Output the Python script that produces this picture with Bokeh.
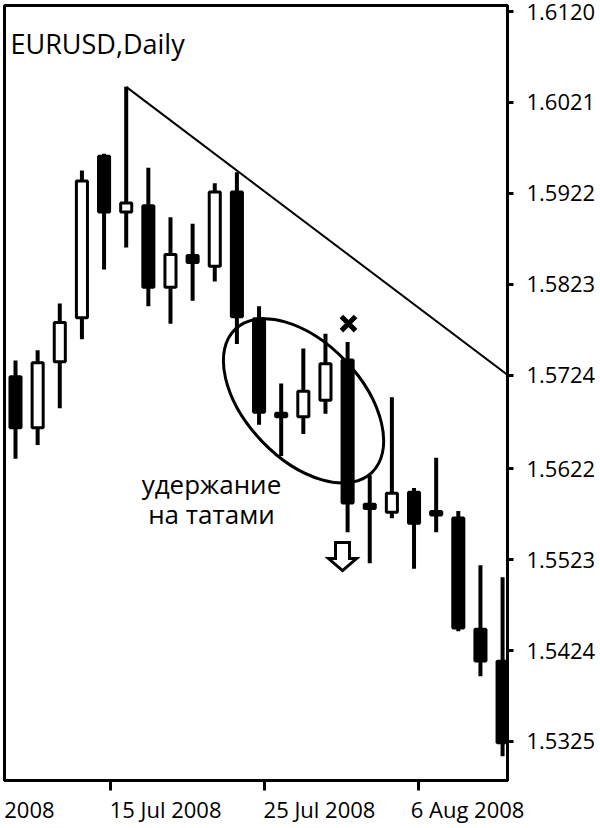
import numpy as np
from bokeh.plotting import figure
from bokeh.models import LinearAxis, FixedTicker, PrintfTickFormatter, ColumnDataSource
from bokeh.core.properties import value
from bokeh.embed import file_html
from bokeh.resources import INLINE

# ---------------- data ----------------
title_text = "EURUSD,Daily"
day_index = list(range(23))
open_ = [1.5724, 1.5665, 1.5737, 1.5785, 1.5964, 1.5900, 1.5910, 1.5818, 1.5856, 1.5841,
         1.5925, 1.5787, 1.5684, 1.5677, 1.5695, 1.5742, 1.5585, 1.5573, 1.5598, 1.5577,
         1.5570, 1.5449, 1.5414]
high = [1.5740, 1.5751, 1.5802, 1.5947, 1.5965, 1.6038, 1.5950, 1.5896, 1.5889, 1.5933,
        1.5945, 1.5799, 1.5715, 1.5753, 1.5769, 1.5760, 1.5615, 1.5700, 1.5601, 1.5634,
        1.5576, 1.5517, 1.5504]
low = [1.5633, 1.5648, 1.5688, 1.5763, 1.5839, 1.5863, 1.5799, 1.5780, 1.5805, 1.5826,
       1.5758, 1.5670, 1.5636, 1.5660, 1.5682, 1.5553, 1.5519, 1.5568, 1.5513, 1.5553,
       1.5445, 1.5396, 1.5309]
close = [1.5665, 1.5739, 1.5783, 1.5937, 1.5900, 1.5913, 1.5818, 1.5857, 1.5845, 1.5925,
         1.5786, 1.5682, 1.5677, 1.5708, 1.5738, 1.5583, 1.5577, 1.5597, 1.5561, 1.5570,
         1.5447, 1.5411, 1.5322]

price_ticks = [1.5325, 1.5424, 1.5523, 1.5622, 1.5724, 1.5823, 1.5922, 1.6021, 1.6120]
date_tick_pos = [4.29, 11.25, 18.20]
date_label_pos = [0.63, 6.78, 13.73, 20.42]
date_labels = ["2008", "15 Jul 2008", "25 Jul 2008", "6 Aug 2008"]

trend_x = [5, 23]
trend_y = [1.6038, 1.5710]

note_lines = ["удержание", "на татами"]
note_x = [8.85, 8.85]
note_y = [1.56049, 1.55733]

title_y = 1.60852

ellipse_x = [13.01]
ellipse_y = [1.5696]
cross_x = [15.04]
cross_y = [1.57802]
arrow_x = 14.77
arrow_tip_y = 1.55112

# ---------------- figure ----------------
X0, X1 = -0.497, 22.222
Y0, Y1 = 1.52825, 1.61266
FW, FH = 503, 775
px_x = (X1 - X0) / FW
px_y = (Y1 - Y0) / FH

FONT = "Open Sans"

p = figure(x_range=(X0, X1), y_range=(Y0, Y1), frame_width=FW, frame_height=FH,
           x_axis_type=None, y_axis_location="right", toolbar_location=None,
           output_backend="svg", min_border_left=4, min_border_top=5,
           min_border_right=0, min_border_bottom=0,
           outline_line_color="black", outline_line_width=3,
           background_fill_color="white", border_fill_color="white")
p.grid.visible = False

ya = p.yaxis[0]
ya.ticker = FixedTicker(ticks=price_ticks)
ya.formatter = PrintfTickFormatter(format="%.4f")
ya.major_label_text_font = FONT
ya.major_label_text_font_size = "22px"
ya.major_label_text_color = "black"
ya.major_tick_out = 6
ya.major_tick_in = 0
ya.major_tick_line_width = 3
ya.major_tick_line_color = "black"
ya.minor_tick_line_color = None
ya.axis_line_width = 3
ya.axis_line_color = "black"
ya.major_label_standoff = 13

# bottom axis: labels at major ticks (tick marks hidden), visible marks are the minor ticks
xa = LinearAxis(ticker=FixedTicker(ticks=date_label_pos, minor_ticks=date_tick_pos),
                major_label_overrides={k: v for k, v in zip(date_label_pos, date_labels)},
                major_label_text_font=FONT, major_label_text_font_size="22px",
                major_label_text_color="black",
                major_tick_line_color=None, major_tick_out=10, major_tick_in=0,
                minor_tick_line_color="black", minor_tick_line_width=3,
                minor_tick_out=10, minor_tick_in=0,
                axis_line_width=3, axis_line_color="black", major_label_standoff=3)
p.add_layout(xa, "below")

# ---------------- candles ----------------
o = np.array(open_)
c = np.array(close)
inset = 1.5 * px_y
src = ColumnDataSource(dict(
    x=day_index, high=high, low=low,
    top=np.maximum(o, c) - inset,
    bottom=np.minimum(o, c) + inset,
    fill=np.where(c >= o, "white", "black"),
))
p.segment(x0="x", y0="low", x1="x", y1="high", source=src, line_color="black", line_width=4)
p.vbar(x="x", width=0.5, top="top", bottom="bottom", source=src,
       fill_color="fill", line_color="black", line_width=3)

# ---------------- annotations ----------------
p.line(trend_x, trend_y, line_color="black", line_width=2)

p.ellipse(x=ellipse_x, y=ellipse_y, width=198, height=116, angle=-0.81,
          width_units="screen", height_units="screen",
          fill_color=None, line_color="black", line_width=3)

p.scatter(x=cross_x, y=cross_y, marker="x", size=20, line_width=5, line_color="black")

# hollow down arrow (shape in pixels around its tip)
shape_dx = [0, 14, 7, 7, -7, -7, -14]
shape_dy = [0, 12, 12, 28, 28, 12, 12]
p.patch([arrow_x + d * px_x for d in shape_dx],
        [arrow_tip_y + d * px_y for d in shape_dy],
        fill_color="white", line_color="black", line_width=3, line_join="miter")

p.text(x=note_x, y=note_y, text=note_lines, text_font=value(FONT),
       text_font_size="26px", text_align="center", text_baseline="alphabetic",
       text_color="black")

p.text(x=[X0 + 6 * px_x], y=[title_y], text=[title_text], text_font=value(FONT),
       text_font_size="27px", text_align="left", text_baseline="alphabetic",
       text_color="black")

open("out.html", "w").write(file_html(p, INLINE))
